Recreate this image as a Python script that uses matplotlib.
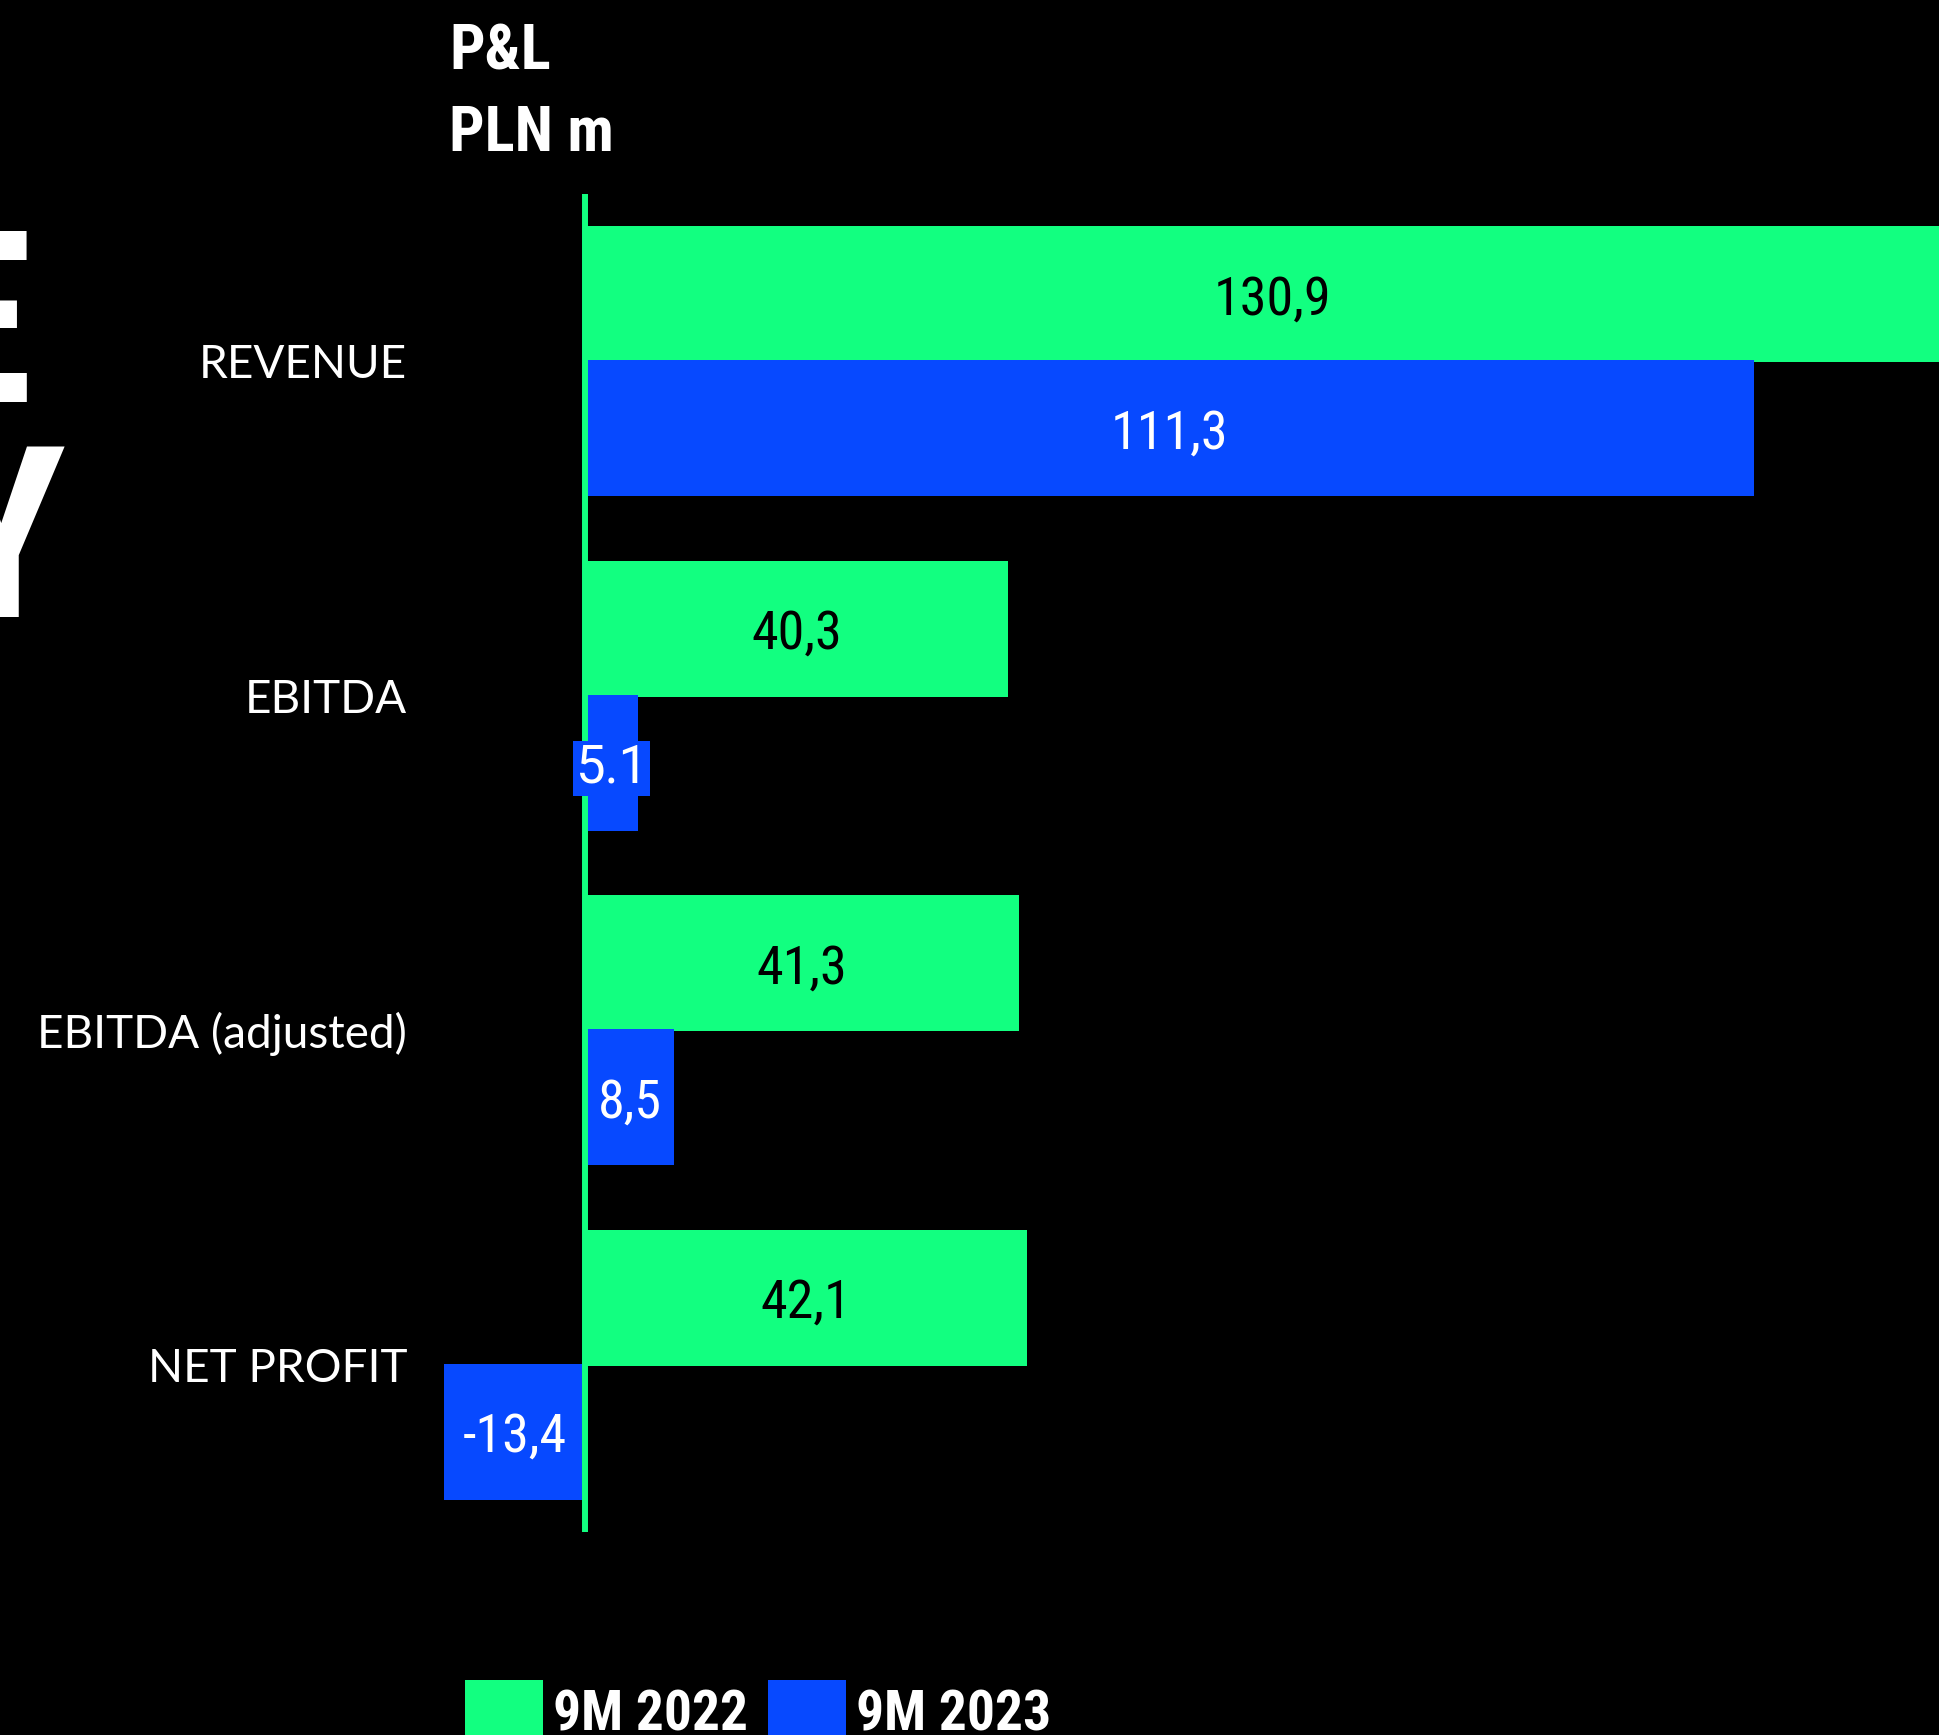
#!/usr/bin/env python3
"""P&L comparison bars, 9M 2022 vs 9M 2023 (PLN m)."""

import numpy as np
import matplotlib

matplotlib.use("Agg")
import matplotlib.pyplot as plt
from matplotlib import font_manager
from matplotlib.patches import Patch
from matplotlib.transforms import blended_transform_factory

categories = ["REVENUE", "EBITDA", "EBITDA (adjusted)", "NET PROFIT"]
values_2022 = [130.9, 40.3, 41.3, 42.1]
values_2023 = [111.3, 5.1, 8.5, -13.4]
labels_2022 = ["130,9", "40,3", "41,3", "42,1"]
labels_2023 = ["111,3", "5.1", "8,5", "-13,4"]
series_names = ["9M 2022", "9M 2023"]

GREEN = "#12FF80"
BLUE = "#0749FF"

W_PX, H_PX = 1939, 1735


def pick_condensed() -> dict:
    fonts = font_manager.fontManager.ttflist
    names = {f.name for f in fonts}
    for cand in ["Roboto Condensed", "Liberation Sans Narrow", "Open Sans Condensed"]:
        if cand in names:
            return {"family": cand}
    for f in fonts:
        if f.name == "DejaVu Sans" and "condensed" in str(f.stretch):
            return {"family": "DejaVu Sans", "stretch": "condensed"}
    return {"family": "Roboto"}


COND = pick_condensed()

fig = plt.figure(figsize=(W_PX / 100, H_PX / 100), dpi=100, facecolor="black")

# axes span the full width; vertical extent matches the green zero line
ax_bottom = 1 - 1532 / H_PX
ax_top = 1 - 194 / H_PX
ax = fig.add_axes([0, ax_bottom, 1, ax_top - ax_bottom])
ax.set_facecolor("black")
ax.set_xlim(-55.7, 128.95)
ax.set_ylim(3.5, -0.5)
ax.axis("off")

y = np.arange(len(categories))
bar_h = 0.407
off = 0.2
ax.barh(y - off, values_2022, height=bar_h, color=GREEN, zorder=2)
ax.barh(y + off, values_2023, height=bar_h, color=BLUE, zorder=2)
ax.axvline(0, color=GREEN, linewidth=4.3, zorder=5)

for yi, v, lab in zip(y, values_2022, labels_2022):
    ax.text(v / 2, yi - off, lab, ha="center", va="center_baseline",
            fontsize=39, color="black", zorder=6, **COND)

for yi, v, lab in zip(y, values_2023, labels_2023):
    if abs(v) < 6:
        # label wider than the bar: boxed, regular width font
        ax.text(v / 2, yi + off, lab, ha="center", va="center_baseline",
                fontsize=38, color="white", family="Roboto", zorder=7,
                bbox=dict(boxstyle="square,pad=0.04", fc=BLUE, ec="none"))
    else:
        ax.text(v / 2, yi + off, lab, ha="center", va="center_baseline",
                fontsize=39, color="white", zorder=6, **COND)

trans = blended_transform_factory(ax.transAxes, ax.transData)
for yi, cat in zip(y, categories):
    ax.text(407 / W_PX, yi, cat, transform=trans, ha="right",
            va="center_baseline", fontsize=33, color="white", family="Lato")

# header
fig.text(449 / W_PX, 1 - 70 / H_PX, "P&L", ha="left", va="baseline",
         fontsize=45, fontweight="bold", color="white", **COND)
fig.text(449 / W_PX, 1 - 151 / H_PX, "PLN m", ha="left", va="baseline",
         fontsize=45, fontweight="bold", color="white", **COND)

# fragments of the large slide title cut by the left edge
fig.text(32 / W_PX, 1 - 402 / H_PX, "E", ha="right", va="baseline",
         fontsize=173, fontweight="bold", color="white", **COND)
fig.text(66 / W_PX, 1 - 617 / H_PX, "Y", ha="right", va="baseline",
         fontsize=173, fontweight="bold", color="white", **COND)

handles = [Patch(facecolor=GREEN, edgecolor="none"),
           Patch(facecolor=BLUE, edgecolor="none")]
fig.legend(handles, series_names, loc="upper left",
           bbox_to_anchor=(465 / W_PX, 1 - 1680 / H_PX), ncol=2,
           frameon=False, borderpad=0, borderaxespad=0,
           handlelength=1.4, handleheight=1.4, handletextpad=0.18,
           columnspacing=0.36, labelcolor="white",
           prop=dict(size=40, weight="bold", **COND))

fig.savefig("out.png", dpi=100, facecolor="black")
